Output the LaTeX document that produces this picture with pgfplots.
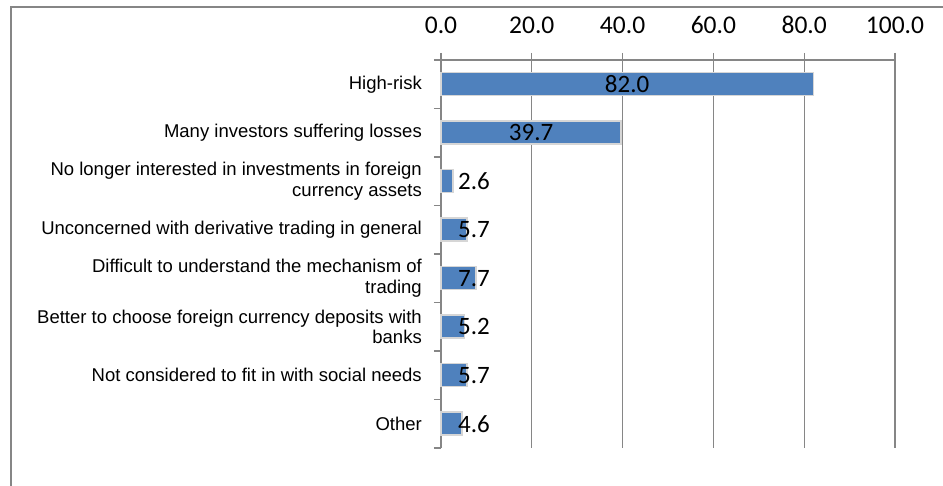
\documentclass[border=0pt]{standalone}
\usepackage{pgfplots}
\pgfplotsset{compat=1.18}
\usepackage{fontspec}
\setmainfont{Carlito}
\newfontfamily\arial{Liberation Sans}
\definecolor{barblue}{RGB}{79,129,189}
\definecolor{baredge}{RGB}{214,214,214}
\definecolor{axgray}{RGB}{134,134,134}
\begin{document}
\begin{tikzpicture}[x=1pt,y=1pt]
\useasboundingbox (0,0) rectangle (943,486);
\draw[axgray, line width=2pt] (10.7,0) -- (10.7,479.3) -- (943,479.3);
\begin{axis}[
  at={(441pt,38pt)}, anchor=south west,
  x=4.54pt, y=48.5pt,
  xmin=0, xmax=100, ymin=-0.5, ymax=7.5,
  axis x line*=top, axis y line*=left,
  axis line style={axgray, line width=1.2pt},
  tick style={axgray, line width=1.2pt},
  tick align=outside, major tick length=7pt,
  xtick={0,20,40,60,80,100},
  xmajorgrids, grid style={axgray, line width=1.2pt},
  /pgf/number format/assume math mode=true,
  xticklabel style={/pgf/number format/fixed,/pgf/number format/precision=1,/pgf/number format/fixed zerofill, font=\fontsize{25.5}{30}\selectfont, yshift=16pt},
  ytick={-0.5,0.5,...,6.5},
  yticklabels={Other, Not considered to fit in with social needs, {Better to choose foreign currency deposits with\\banks}, {Difficult to understand the mechanism of\\trading}, Unconcerned with derivative trading in general, {No longer interested in investments in foreign\\currency assets}, Many investors suffering losses, High-risk},
  yticklabel style={font=\arial\fontsize{18.5}{20.5}\selectfont, align=right, anchor=east, inner sep=0pt, yshift=24.25pt, xshift=-12pt},
  extra y ticks={7.5}, extra y tick labels={},
  xbar, bar width=23pt,
  clip=false,
]
\addplot[fill=barblue, draw=baredge, line width=1.5pt,
  visualization depends on={rawx \as \rx},
  point meta=x,
  nodes near coords={\pgfmathprintnumber[fixed,fixed zerofill,precision=1]{\pgfplotspointmeta}},
  nodes near coords style={font=\fontsize{25}{30}\selectfont, text=black, anchor=center, xshift={(max(\rx/2,7.27)-\rx)*4.54pt}},
] coordinates {
  (82.0,7) (39.7,6) (2.6,5) (5.7,4) (7.7,3) (5.2,2) (5.7,1) (4.6,0)
};
\end{axis}
\end{tikzpicture}
\end{document}
